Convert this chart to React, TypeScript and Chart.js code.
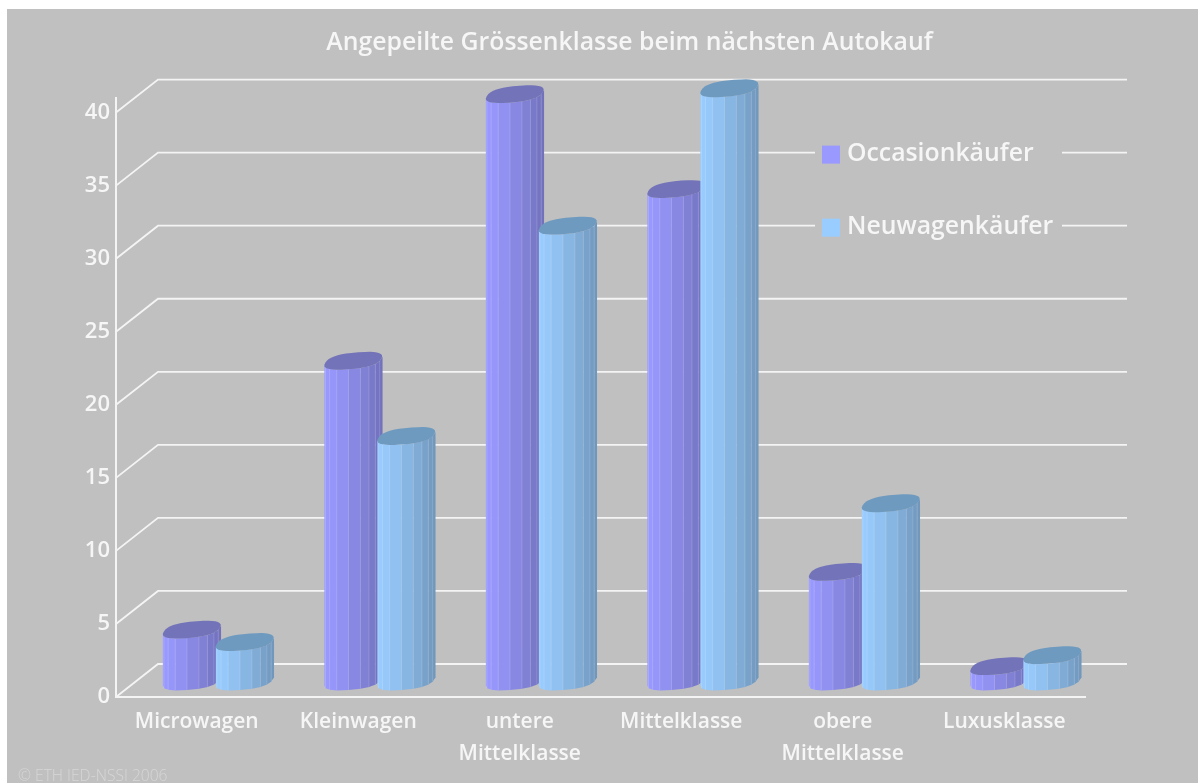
import React, { useEffect, useRef } from "react";
import { Chart, registerables } from "chart.js";

Chart.register(...registerables);

const categories = ["Microwagen", "Kleinwagen", ["untere", "Mittelklasse"], "Mittelklasse", ["obere", "Mittelklasse"], "Luxusklasse"];
const occasion = [3.55, 21.95, 40.2, 33.7, 7.5, 1.05];
const neuwagen = [2.7, 16.8, 31.2, 40.6, 12.2, 1.8];
const yTicks = [0, 5, 10, 15, 20, 25, 30, 35, 40];
const seriesNames = ["Occasionkäufer", "Neuwagenkäufer"];
const seriesColors = ["#9999ff", "#99ccff"];
const topColors = ["#7373b9", "#6e9abf"];
const titleText = "Angepeilte Grössenklasse beim nächsten Autokauf";
const copyright = "© ETH IED-NSSI 2006";

const FONT = '"Open Sans", sans-serif';
const LINE = "#f4f4f4";
const DX = 42;
const DY = -33;
const X_SHIFT = 21.5;
const Y_SHIFT = -12;
const FACETS = 18;
const A = 28;
const P = 5;
const Q = 2;
const B = 8.5;
const E = 0.8;

function shade(hex: string, f: number) {
  const n = parseInt(hex.slice(1), 16);
  return `rgb(${Math.round(((n >> 16) & 255) * f)},${Math.round(((n >> 8) & 255) * f)},${Math.round((n & 255) * f)})`;
}

function rim(cx: number, cy: number, t: number) {
  const c = Math.cos(t);
  const s = Math.sin(t);
  const u = Math.sign(c) * Math.pow(Math.abs(c), E);
  const v = Math.sign(s) * Math.pow(Math.abs(s), E);
  return { x: cx + A * u - P * v, y: cy - Q * u + B * v };
}

function drawCylinder(ctx: CanvasRenderingContext2D, el: any, color: string, top: string) {
  const cx = el.x + X_SHIFT;
  const topY = el.y + Y_SHIFT - 3.5;
  const baseY = el.base + Y_SHIFT - 3.5;
  const tEnd = Math.atan2(-P, A);
  const tStart = tEnd + Math.PI;
  const n = FACETS / 2;
  const left = rim(cx, topY, tStart).x;
  const right = rim(cx, topY, tEnd).x;
  for (let i = 0; i < n; i++) {
    const a = tStart + ((tEnd - tStart) * i) / n;
    const b = tStart + ((tEnd - tStart) * (i + 1)) / n;
    const pa = rim(cx, topY, a);
    const pb = rim(cx, topY, b);
    const qa = rim(cx, baseY, a);
    const qb = rim(cx, baseY, b);
    const f = ((pa.x + pb.x) / 2 - left) / (right - left);
    ctx.fillStyle = shade(color, 1 - 0.27 * Math.pow(f, 1.4));
    ctx.beginPath();
    ctx.moveTo(pa.x, pa.y);
    ctx.lineTo(pb.x + 0.4, pb.y);
    ctx.lineTo(qb.x + 0.4, qb.y);
    ctx.lineTo(qa.x, qa.y);
    ctx.closePath();
    ctx.fill();
    if (i > 0) {
      ctx.strokeStyle = "rgba(255,255,255,0.16)";
      ctx.lineWidth = 1;
      ctx.beginPath();
      ctx.moveTo(pa.x, pa.y);
      ctx.lineTo(qa.x, qa.y);
      ctx.stroke();
    }
  }
  ctx.fillStyle = top;
  ctx.beginPath();
  for (let i = 0; i < FACETS * 2; i++) {
    const p = rim(cx, topY, (Math.PI * i) / FACETS);
    if (i === 0) ctx.moveTo(p.x, p.y);
    else ctx.lineTo(p.x, p.y);
  }
  ctx.closePath();
  ctx.fill();
}

const scenePlugin = {
  id: "scene",
  afterLayout(chart: any) {
    if (chart.titleBlock) {
      chart.titleBlock.left = 61;
      chart.titleBlock.right = 1198;
    }
  },
  beforeDatasetsDraw(chart: any) {
    const { ctx, chartArea } = chart;
    const y = chart.scales.y;
    ctx.save();
    ctx.strokeStyle = LINE;
    ctx.lineWidth = 1.8;
    const bx = chartArea.left;
    y.ticks.forEach((t: any) => {
      const py = y.getPixelForValue(t.value);
      ctx.beginPath();
      ctx.moveTo(bx, py);
      ctx.lineTo(bx + DX, py + DY);
      ctx.lineTo(chartArea.right + DX, py + DY);
      ctx.stroke();
    });
    ctx.restore();
  },
  beforeDatasetDraw() {
    return false;
  },
  afterDatasetsDraw(chart: any) {
    const { ctx } = chart;
    ctx.save();
    const legendY = [chart.scales.y.getPixelForValue(35) + DY, chart.scales.y.getPixelForValue(30) + DY];
    const count = chart.data.labels.length;
    for (let i = 0; i < count; i++) {
      chart.data.datasets.forEach((ds: any, d: number) => {
        const el = chart.getDatasetMeta(d).data[i];
        drawCylinder(ctx, el, seriesColors[d], topColors[d]);
      });
    }
    ctx.fillStyle = "#c0c0c0";
    legendY.forEach((ly) => ctx.fillRect(815, ly - 3, 247, 6));
    ctx.textBaseline = "middle";
    ctx.textAlign = "left";
    chart.data.datasets.forEach((ds: any, d: number) => {
      ctx.fillStyle = seriesColors[d];
      ctx.fillRect(822, legendY[d] - 7, 18, 18);
      ctx.fillStyle = "#f6f6f6";
      ctx.font = `600 24.8px ${FONT}`;
      ctx.fillText(ds.label, 847, legendY[d] + 1.5);
    });
    ctx.fillStyle = "#d6d6d6";
    ctx.font = `300 15.6px ${FONT}`;
    ctx.fillText(copyright, 18, 777);
    ctx.restore();
  },
};

export default function App() {
  const ref = useRef<HTMLCanvasElement | null>(null);
  useEffect(() => {
    if (!ref.current) return;
    const chart = new Chart(ref.current, {
      type: "bar",
      data: {
        labels: categories as any,
        datasets: [
          { label: seriesNames[0], data: occasion, backgroundColor: seriesColors[0], categoryPercentage: 0.656, barPercentage: 1 },
          { label: seriesNames[1], data: neuwagen, backgroundColor: seriesColors[1], categoryPercentage: 0.656, barPercentage: 1 },
        ],
      },
      options: {
        responsive: false,
        animation: false,
        layout: { padding: { left: 61, right: 113, top: 0, bottom: 0 } },
        plugins: {
          legend: { display: false },
          tooltip: { enabled: false },
          title: {
            display: true,
            text: titleText,
            color: "#f6f6f6",
            font: { family: FONT, size: 24.8, weight: "600" as any, lineHeight: 1.2 },
            padding: { top: 28, bottom: 40.2 },
          },
        },
        scales: {
          x: {
            grid: { display: false, drawTicks: false },
            border: { display: true, color: LINE, width: 2 },
            ticks: {
              color: "#f6f6f6",
              font: { family: FONT, size: 21, weight: "600" as any, lineHeight: 1.52 },
              padding: 9,
              maxRotation: 0,
              autoSkip: false,
            },
            afterFit(s: any) {
              s.height = 86;
            },
          },
          y: {
            min: 0,
            max: 41,
            grid: { display: false, drawTicks: false },
            border: { display: true, color: LINE, width: 2 },
            ticks: {
              color: "#f6f6f6",
              font: { family: FONT, size: 22, weight: "600" as any },
              padding: 6,
            },
            afterBuildTicks(s: any) {
              s.ticks = yTicks.map((value) => ({ value }));
            },
            afterFit(s: any) {
              s.width = 55;
            },
          },
        },
      },
      plugins: [scenePlugin],
    });
    return () => chart.destroy();
  }, []);
  return (
    <div style={{ position: "absolute", left: 0, top: 0, width: 1198, height: 783, overflow: "hidden", background: "#fff" }}>
      <div style={{ position: "absolute", left: 7, top: 9, width: 1191, height: 774, background: "#c0c0c0" }} />
      <canvas ref={ref} width={1198} height={783} style={{ position: "absolute", left: 0, top: 0, display: "block" }} />
    </div>
  );
}
